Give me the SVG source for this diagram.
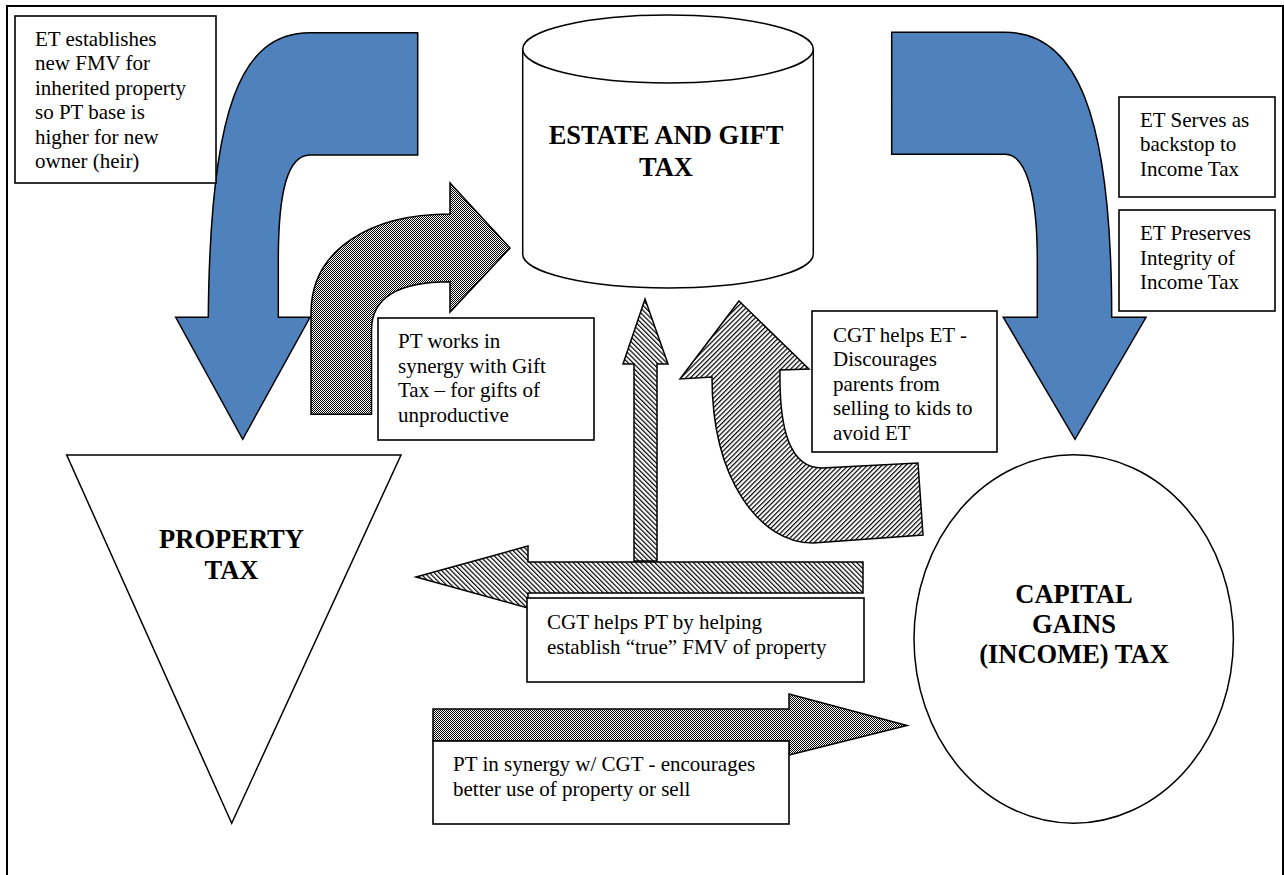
<svg xmlns="http://www.w3.org/2000/svg" width="1284" height="875" viewBox="0 0 1284 875">
<defs>
<pattern id="checker" width="2" height="2" patternUnits="userSpaceOnUse"><rect width="2" height="2" fill="#fff" shape-rendering="crispEdges"/><rect width="1" height="1" fill="#000" shape-rendering="crispEdges"/><rect x="1" y="1" width="1" height="1" fill="#000" shape-rendering="crispEdges"/></pattern>
<pattern id="hatchBack" width="3.4" height="3.4" patternUnits="userSpaceOnUse" patternTransform="rotate(-45)"><rect width="3.4" height="3.4" fill="#fff"/><rect width="1.2" height="3.4" fill="#000"/></pattern>
<pattern id="hatchFwd" width="3.4" height="3.4" patternUnits="userSpaceOnUse" patternTransform="rotate(45)"><rect width="3.4" height="3.4" fill="#fff"/><rect width="1.2" height="3.4" fill="#000"/></pattern>
</defs>
<style>
.box{fill:#fff;stroke:#000;stroke-width:1.6}
.shape{fill:#fff;stroke:#000;stroke-width:1.5}
.blue{fill:#4F81BD;stroke:#000;stroke-width:1.5;stroke-linejoin:miter}
.chk{fill:url(#checker);stroke:#000;stroke-width:1.5}
.hb{fill:url(#hatchBack);stroke:#000;stroke-width:1.5}
.hf{fill:url(#hatchFwd);stroke:#000;stroke-width:1.5}
.t{font-family:"Liberation Serif","Times New Roman",serif;font-size:21px;fill:#000}
.b{font-family:"Liberation Serif","Times New Roman",serif;font-size:26.5px;font-weight:bold;fill:#000;text-anchor:middle}
</style>
<rect x="7" y="6" width="1276" height="880" fill="#fff" stroke="#000" stroke-width="2"/>

<g id="connectors">
<path id="arrow-et-pt" class="blue" d="M417.7,32.7 L310,32.7 C240,32.7 210,110 208.3,317.3 L175.7,317.3 L242.7,439.3 L310,317.3 L278.3,317.3 L278.3,260 C278.3,190 288,155 310,155 L417.7,155 Z"/>
<path id="arrow-et-cgt" class="blue" d="M891.7,32.3 L1005,32.3 C1075,32.3 1111.7,110 1111.7,317.3 L1146,317.3 L1075,439.3 L1003.3,317.3 L1037.3,317.3 L1037.3,260 C1037.3,190 1025,154.3 1005,154.3 L891.7,154.3 Z"/>
<path id="arrow-pt-et" class="chk" d="M311,414.3 L311,313 C311,250 370,214 450,214 L450,183 L510,248 L450,312 L450,281.7 C395,281.7 371.5,300 371.5,330 L371.5,414.3 Z"/>
<path id="arrow-cgt-et" class="hf" d="M739,301 L809,369 L780,370 C779,430 790,468 822,468 L918,463 L923,535 L813,543 C760,543 712,480 712,377 L680,379 Z"/>
<path id="arrow-up-et" class="hb" d="M645,299 L668,364 L657,364 L657,561 L634,561 L634,364 L623,364 Z"/>
<path id="arrow-cgt-pt" class="hb" d="M416,577 L528,546 L528,562 L863,562 L863,593 L528,593 L528,608 Z"/>
<path id="arrow-pt-cgt" class="chk" d="M433,709 L789,709 L789,694 L907,725.5 L789,755 L789,741 L433,741 Z"/>
</g>

<g id="estate-gift-tax">
<path class="shape" d="M522.7,49 L522.7,254 A145.3,34 0 0 0 813.3,254 L813.3,49 Z"/>
<ellipse class="shape" cx="668" cy="49" rx="145.3" ry="34"/>
<text class="b" x="666" y="144">ESTATE AND GIFT</text>
<text class="b" x="666" y="175.7">TAX</text>
</g>

<g id="property-tax">
<polygon class="shape" points="66.7,455 401,455 231.7,823.3"/>
<text class="b" x="231.5" y="548.3">PROPERTY</text>
<text class="b" x="231.5" y="579.3">TAX</text>
</g>

<g id="capital-gains-tax">
<ellipse class="shape" cx="1073.7" cy="639" rx="159.7" ry="184.2"/>
<text class="b" x="1074" y="602.7">CAPITAL</text>
<text class="b" x="1074" y="632.7">GAINS</text>
<text class="b" x="1074" y="662.7">(INCOME) TAX</text>
</g>

<g id="note-et-fmv">
<rect class="box" x="15" y="16" width="201" height="167"/>
<text class="t" x="35" y="45.7">ET establishes</text>
<text class="t" x="35" y="70.2">new FMV for</text>
<text class="t" x="35" y="94.7">inherited property</text>
<text class="t" x="35" y="119.2">so PT base is</text>
<text class="t" x="35" y="143.7">higher for new</text>
<text class="t" x="35" y="168.2">owner (heir)</text>
</g>

<g id="note-et-backstop">
<rect class="box" x="1119" y="97" width="156" height="100"/>
<text class="t" x="1140" y="126.7">ET Serves as</text>
<text class="t" x="1140" y="151.2">backstop to</text>
<text class="t" x="1140" y="175.7">Income Tax</text>
</g>

<g id="note-et-integrity">
<rect class="box" x="1119" y="210" width="156" height="101"/>
<text class="t" x="1140" y="240">ET Preserves</text>
<text class="t" x="1140" y="264.5">Integrity of</text>
<text class="t" x="1140" y="289">Income Tax</text>
</g>

<g id="note-pt-gift">
<rect class="box" x="378" y="318" width="216" height="122"/>
<text class="t" x="398" y="348.3">PT works in</text>
<text class="t" x="398" y="372.8">synergy with Gift</text>
<text class="t" x="398" y="397.3">Tax – for gifts of</text>
<text class="t" x="398" y="421.8">unproductive</text>
</g>

<g id="note-cgt-et">
<rect class="box" x="812" y="311" width="185" height="141"/>
<text class="t" x="833" y="341.7">CGT helps ET -</text>
<text class="t" x="833" y="366.2">Discourages</text>
<text class="t" x="833" y="390.7">parents from</text>
<text class="t" x="833" y="415.2">selling to kids to</text>
<text class="t" x="833" y="439.7">avoid ET</text>
</g>

<g id="note-cgt-pt">
<rect class="box" x="527" y="598" width="337" height="84"/>
<text class="t" x="547" y="629">CGT helps PT by helping</text>
<text class="t" x="547" y="653.5">establish “true” FMV of property</text>
</g>

<g id="note-pt-cgt">
<rect class="box" x="433" y="741" width="356" height="83"/>
<text class="t" x="453" y="771">PT in synergy w/ CGT - encourages</text>
<text class="t" x="453" y="795.5">better use of property or sell</text>
</g>
</svg>
